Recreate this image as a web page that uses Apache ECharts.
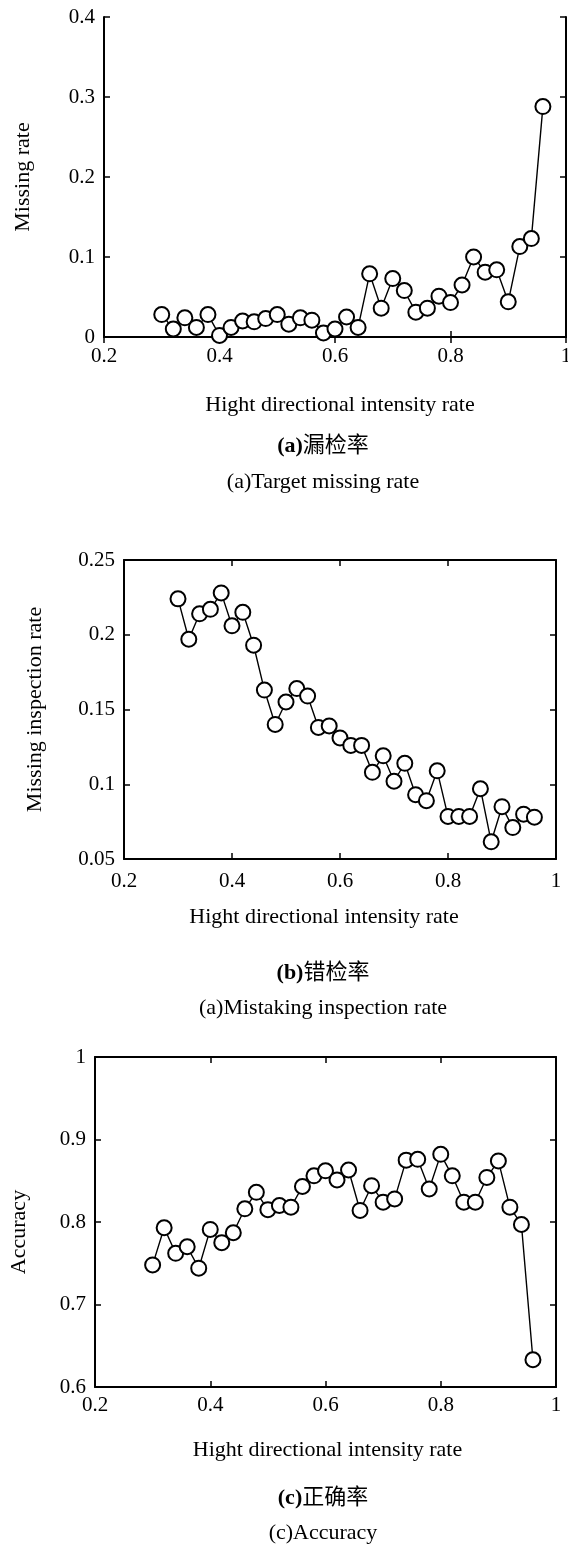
<!DOCTYPE html>
<html>
<head>
<meta charset="utf-8">
<title>Detection rates</title>
<script src="https://cdn.jsdelivr.net/npm/echarts@6/dist/echarts.min.js"></script>
<style>
  html, body { margin: 0; padding: 0; background: #fff; }
  #chart { width: 568px; height: 1544px; }
</style>
</head>
<body>
<div id="chart"></div>
<script>
// high directional intensity rate (x) shared by all three panels
const intensityRate = [
  0.30, 0.32, 0.34, 0.36, 0.38, 0.40, 0.42, 0.44, 0.46, 0.48, 0.50, 0.52,
  0.54, 0.56, 0.58, 0.60, 0.62, 0.64, 0.66, 0.68, 0.70, 0.72, 0.74, 0.76,
  0.78, 0.80, 0.82, 0.84, 0.86, 0.88, 0.90, 0.92, 0.94, 0.96,
];

// (a) target missing rate
const missingRate = [
  0.028, 0.010, 0.024, 0.012, 0.028, 0.002, 0.012, 0.020, 0.019, 0.023, 0.028, 0.016,
  0.024, 0.021, 0.005, 0.010, 0.025, 0.012, 0.079, 0.036, 0.073, 0.058, 0.031, 0.036,
  0.051, 0.043, 0.065, 0.100, 0.081, 0.084, 0.044, 0.113, 0.123, 0.288,
];

// (b) mistaking inspection rate
const mistakingRate = [
  0.224, 0.197, 0.214, 0.217, 0.228, 0.206, 0.215, 0.193, 0.163, 0.140, 0.155, 0.164,
  0.159, 0.138, 0.139, 0.131, 0.126, 0.126, 0.108, 0.119, 0.102, 0.114, 0.093, 0.089,
  0.109, 0.0785, 0.0785, 0.0785, 0.097, 0.0615, 0.085, 0.071, 0.080, 0.078,
];

// (c) accuracy
const accuracy = [
  0.748, 0.793, 0.762, 0.770, 0.744, 0.791, 0.775, 0.787, 0.816, 0.836, 0.815, 0.820,
  0.818, 0.843, 0.856, 0.862, 0.851, 0.863, 0.814, 0.844, 0.824, 0.828, 0.875, 0.876,
  0.840, 0.882, 0.856, 0.824, 0.824, 0.854, 0.874, 0.818, 0.797, 0.633,
];

// tick labels
const xTicks = [0.2, 0.4, 0.6, 0.8, 1];
const missingTicks = [0, 0.1, 0.2, 0.3, 0.4];
const mistakingTicks = [0.05, 0.1, 0.15, 0.2, 0.25];
const accuracyTicks = [0.6, 0.7, 0.8, 0.9, 1];

const FONT = '"Liberation Serif", "Times New Roman", "Noto Sans CJK SC", serif';

const panels = [
  {
    grid: { left: 104, top: 17, width: 462, height: 320 },
    values: missingRate, yTicks: missingTicks, yName: "Missing rate",
    yNameGap: 70, yNamePad: [0, 0, 0, 0], xNameGap: 57, xLabelMargin: 9, xNamePad: [0, 0, 0, 10],
  },
  {
    grid: { left: 124, top: 560, width: 432, height: 299 },
    values: mistakingRate, yTicks: mistakingTicks, yName: "Missing inspection rate",
    yNameGap: 78, yNamePad: [0, 0, 0, 0], xNameGap: 47, xLabelMargin: 12, xNamePad: [0, 32, 0, 0],
  },
  {
    grid: { left: 95, top: 1057, width: 461, height: 330 },
    values: accuracy, yTicks: accuracyTicks, yName: "Accuracy",
    yNameGap: 65, yNamePad: [0, 20, 0, 0], xNameGap: 52, xLabelMargin: 8, xNamePad: [0, 0, 0, 4],
  },
];

const step = (ticks) => +(ticks[1] - ticks[0]).toFixed(4);
const fmt = (v) => String(+v.toFixed(3));

const tickLabel = { color: "#000", fontFamily: FONT, fontSize: 21 };
const line = { show: true, lineStyle: { color: "#000", width: 2 } };
const tick = { show: true, inside: true, length: 6, lineStyle: { color: "#000", width: 1.5 } };

const xAxis = [];
const yAxis = [];
const series = [];

panels.forEach((p, i) => {
  const xRange = { type: "value", gridIndex: i, min: xTicks[0], max: xTicks[xTicks.length - 1], interval: step(xTicks) };
  const yRange = { type: "value", gridIndex: i, min: p.yTicks[0], max: p.yTicks[p.yTicks.length - 1], interval: step(p.yTicks) };

  xAxis.push({
    ...xRange,
    position: "bottom",
    name: "Hight directional intensity rate",
    nameLocation: "middle",
    nameGap: p.xNameGap,
    nameTextStyle: { color: "#000", fontFamily: FONT, fontSize: 22, padding: p.xNamePad },
    axisLine: line,
    axisTick: tick,
    axisLabel: { ...tickLabel, margin: p.xLabelMargin, formatter: fmt },
    splitLine: { show: false },
  });
  // mirrored top axis (ticks only)
  xAxis.push({
    ...xRange,
    position: "top",
    axisLine: line,
    axisTick: tick,
    axisLabel: { show: false },
    splitLine: { show: false },
  });

  yAxis.push({
    ...yRange,
    position: "left",
    name: p.yName,
    nameLocation: "middle",
    nameGap: p.yNameGap,
    nameTextStyle: { color: "#000", fontFamily: FONT, fontSize: 22, padding: p.yNamePad },
    axisLine: line,
    axisTick: tick,
    axisLabel: { ...tickLabel, margin: 9, formatter: fmt },
    splitLine: { show: false },
  });
  // mirrored right axis (ticks only)
  yAxis.push({
    ...yRange,
    position: "right",
    axisLine: line,
    axisTick: tick,
    axisLabel: { show: false },
    splitLine: { show: false },
  });

  series.push({
    type: "line",
    xAxisIndex: i * 2,
    yAxisIndex: i * 2,
    data: intensityRate.map((x, k) => [x, p.values[k]]),
    symbol: "emptyCircle",
    symbolSize: 15,
    showAllSymbol: true,
    lineStyle: { color: "#000", width: 1.4 },
    itemStyle: { color: "#000", borderColor: "#000", borderWidth: 2 },
    emphasis: { disabled: true },
    animation: false,
  });
});

const caption = (text, y) => ({
  type: "text",
  x: 323,
  y,
  style: {
    text,
    fill: "#000",
    fontFamily: FONT,
    fontSize: 22,
    align: "center",
    verticalAlign: "middle",
    rich: { b: { fontFamily: FONT, fontSize: 22, fontWeight: "bold", fill: "#000" } },
  },
});

const chart = echarts.init(document.getElementById("chart"));
chart.setOption({
  backgroundColor: "#fff",
  animation: false,
  grid: panels.map((p) => ({ ...p.grid, show: false, containLabel: false, outerBoundsMode: "none" })),
  xAxis,
  yAxis,
  series,
  graphic: [
    caption("{b|(a)}漏检率", 446),
    caption("(a)Target missing rate", 482),
    caption("{b|(b)}错检率", 973),
    caption("(a)Mistaking inspection rate", 1008),
    caption("{b|(c)}正确率", 1498),
    caption("(c)Accuracy", 1533),
  ],
});
</script>
</body>
</html>
